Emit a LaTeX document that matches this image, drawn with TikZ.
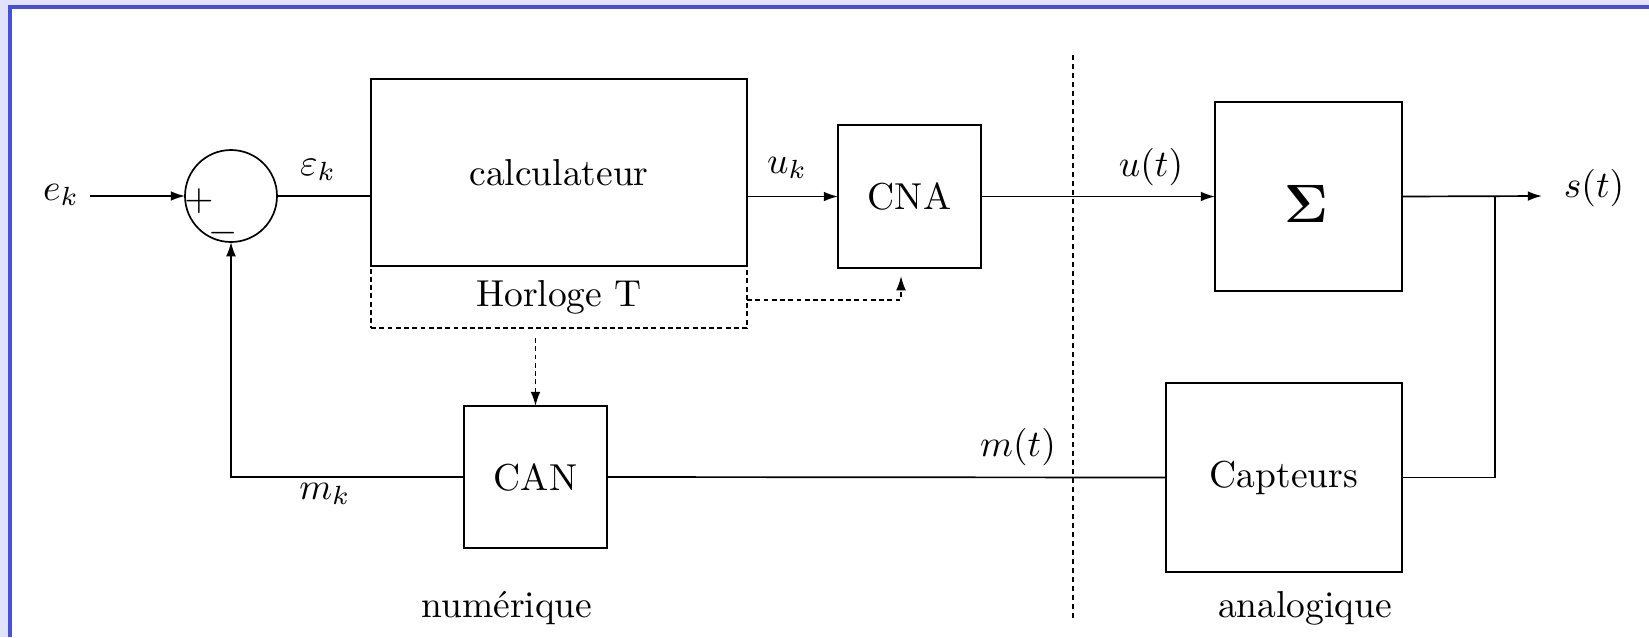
\documentclass[tikz,border=0pt]{standalone}
\usetikzlibrary{arrows.meta,calc}
\definecolor{framebg}{RGB}{226,227,250}
\definecolor{frameline}{RGB}{72,80,216}
\newcommand{\pxu}{0.2667pt}
\begin{document}
\begin{tikzpicture}[x=\pxu,y=-\pxu, line width=0.45pt,
  blk/.style={draw, rectangle, inner sep=0pt, outer sep=0pt},
  sig/.style={-{Latex[length=3.8pt,width=2.6pt]}},
  clk/.style={dash pattern=on 1.3pt off 0.9pt},
  divider/.style={dash pattern=on 1.4pt off 1pt}]
\useasboundingbox (0,0) rectangle (1649,637);
% slide frame
\fill[framebg] (0,0) rectangle (1649,637);
\fill[frameline] (8,5) rectangle (1649,637);
\fill[white] (12,9) rectangle (1649,637);

% blocks
\node[draw, circle, minimum size=92*\pxu, inner sep=0pt, outer sep=0pt] (sum) at (231,196) {};
\node (plus) at (199,201) {$+$};
\node (minus) at (223,233) {$-$};
\node[blk, minimum width=376*\pxu, minimum height=187*\pxu] (calc) at (559,172.5) {calculateur};
\node[blk, clk, minimum width=376*\pxu, minimum height=62*\pxu] (clock) at (559,297) {Horloge T};
\node[blk, minimum width=143*\pxu, minimum height=143*\pxu] (cna) at (909.5,196.5) {CNA};
\node[blk, minimum width=187*\pxu, minimum height=189*\pxu] (plant) at (1308.5,196.5) {};
\node (sigma) at (1306,204) {\Large$\mathbf{\Sigma}$};
\node[blk, minimum width=236*\pxu, minimum height=189*\pxu] (sensor) at (1284,477.5) {Capteurs};
\node[blk, minimum width=143*\pxu, minimum height=142*\pxu] (can) at (535.5,477) {CAN};

% free ends and taps
\coordinate (in) at (90,196);
\coordinate (out) at (1542,196);
\coordinate (split) at (1495,196);
\coordinate (cnatap) at (901,276);
\coordinate (cantap) at ($(can.north |- clock.south)+(0,10)$);
\coordinate (divtop) at (1073,55);
\coordinate (divbot) at (1073,618);

% signal path
\draw[sig] (in) -- (sum.west);
\draw (sum.east) -- (sum.east -| calc.west);
\draw[sig] (calc.east |- cna.west) -- (cna.west);
\draw[sig] (cna.east) -- (plant.west);
\draw[sig] (plant.east) -- (out);
\draw (split) |- (sensor.east);
\draw (sensor.west) -- (can.east);
\draw[sig] (can.west) -| (sum.south);

% clock lines
\draw[clk, sig] ([yshift=-3*\pxu]clock.east) -| (cnatap);
\draw[clk, sig] (cantap) -- (can.north);

% digital / analog boundary
\draw[divider] (divtop) -- (divbot);

% labels
\node (ek) at (61,195) {$e_k$};
\node (epsk) at (318,170) {$\varepsilon_k$};
\node (uk) at (787,168) {$u_k$};
\node (ut) at (1151,167) {$u(t)$};
\node (st) at (1594,188) {$s(t)$};
\node (mt) at (1018,447) {$m(t)$};
\node (mk) at (325,494) {$m_k$};
\node (num) at (507,608) {numérique};
\node (ana) at (1305,608) {analogique};
\end{tikzpicture}
\end{document}
